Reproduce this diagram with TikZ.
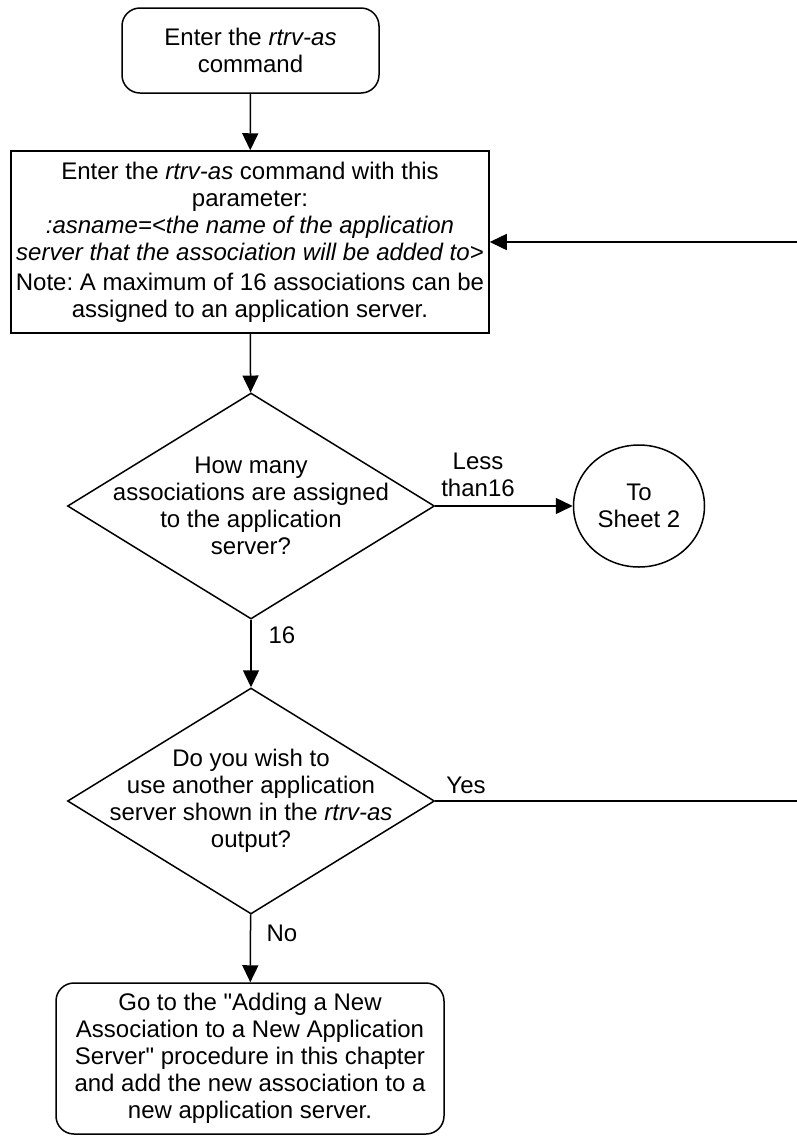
\documentclass[tikz,border=0pt]{standalone}
\usepackage{fontspec}
\setmainfont{Liberation Sans}[Ligatures=TeXOff]
\usetikzlibrary{shapes.geometric,arrows.meta}
\frenchspacing
\begin{document}
\begin{tikzpicture}[x=1pt,y=-1pt,
  every node/.style={font=\fontsize{24}{27}\selectfont, inner sep=0pt},
  line/.style={line width=1.5pt},
  arr/.style={line width=1.5pt, -{Triangle[length=17pt,width=16pt]}},
  rbox/.style={draw, line width=1.5pt, rounded corners=18pt, align=center},
  pbox/.style={draw, line width=1.5pt, align=center},
  dia/.style={draw, diamond, line width=1.5pt, minimum width=367pt, minimum height=226pt, inner sep=0pt},
  ell/.style={draw, ellipse, line width=1.5pt, minimum width=131pt, minimum height=122pt, align=center},
  txt/.style={align=center}
]
\useasboundingbox (0,0) rectangle (797,1136);

\node[rbox, minimum width=257pt, minimum height=85pt] (start) at (250.5,50.5)
  {Enter the \textit{rtrv-as}\\command};

\node[pbox, minimum width=478pt, minimum height=182pt] (box) at (250,242)
  {Enter the \textit{rtrv-as} command with this\\parameter:\\
   \textit{:asname=<the name of the application}\\
   \textit{server that the association will be added to>}\\[3pt]
   Note: A maximum of 16 associations can be\\assigned to an application server.};

\node[dia] (d1) at (251,506) {};
\node[txt] (d1t) at (d1) {How many\\associations are assigned\\to the application\\server?};

\node[ell] (sheet) at (639,506) {To\\Sheet 2};

\node[dia] (d2) at (251,801) {};
\node[txt] (d2t) at (d2) {Do you wish to\\use another application\\server shown in the \textit{rtrv-as}\\output?};

\node[rbox, minimum width=388pt, minimum height=151pt] (end) at (250,1058.5)
  {Go to the "Adding a New\\Association to a New Application\\Server" procedure in this chapter\\and add the new association to a\\new application server.};

\coordinate (r1) at (797,242);
\coordinate (r2) at (797,801);

\draw[arr] (start) -- (box);
\draw[arr] (box) -- (d1);
\draw[arr] (d1.east) -- (sheet.west);
\draw[arr] (d1) -- (d2);
\draw[line] (d2.east) -- (r2);
\draw[arr] (r1) -- (box.east);
\draw[arr] (d2) -- (end);

\node[txt] (lless) at (478,475) {Less\\than16};
\node[txt] (l16) at (282,635) {16};
\node[txt] (lyes) at (466,785) {Yes};
\node[txt] (lno) at (282,933) {No};
\end{tikzpicture}
\end{document}
